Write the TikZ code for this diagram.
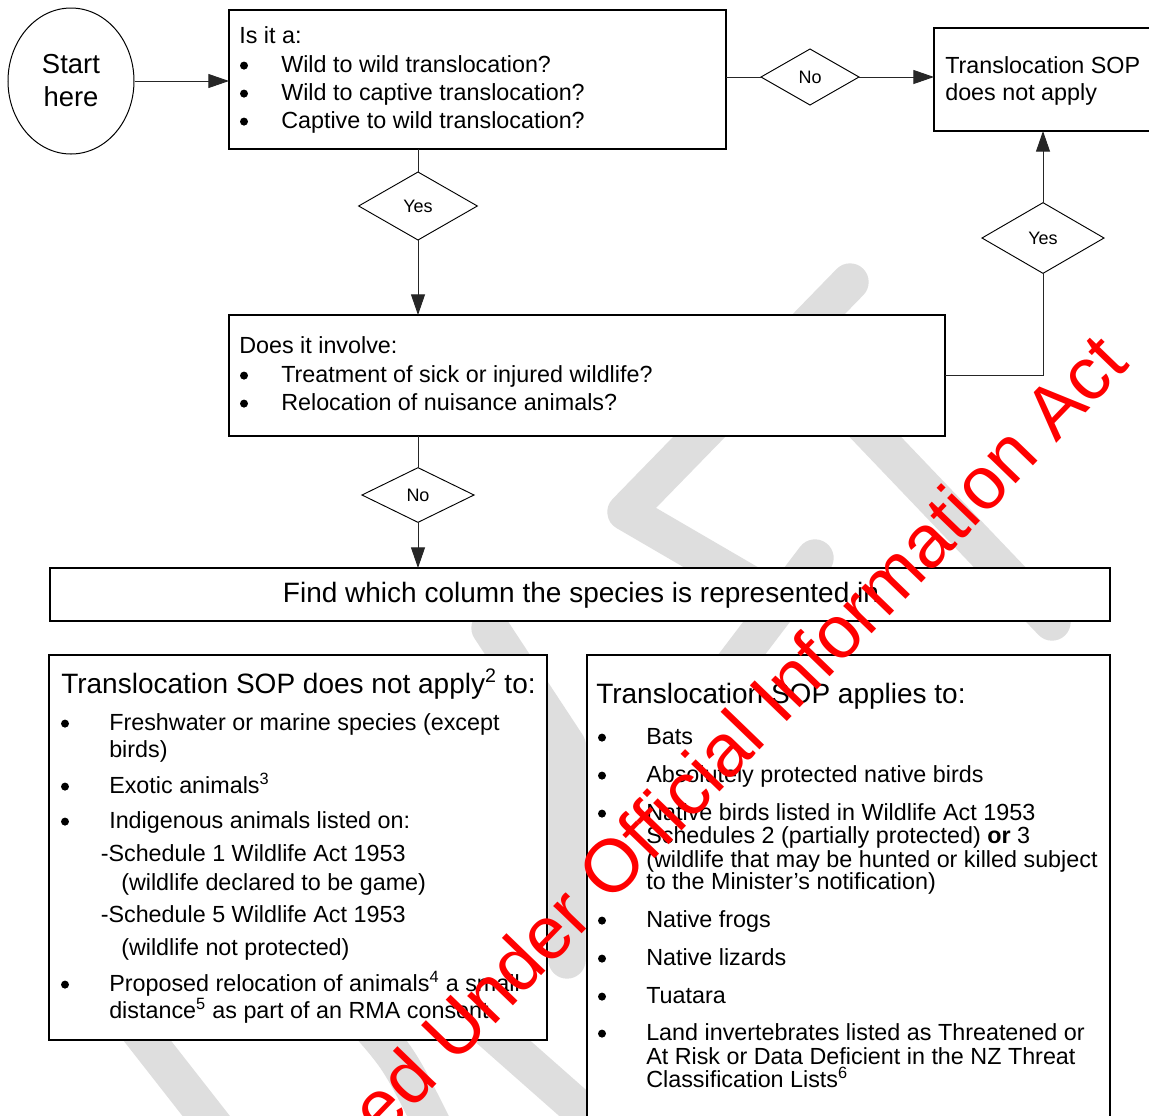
\documentclass[tikz,border=0pt]{standalone}
\usepackage{fontspec}
\setmainfont{Liberation Sans}
\usetikzlibrary{shapes.geometric,arrows.meta}

\tikzset{
  frame/.style={draw=black, line width=1pt, fill=white, inner sep=0pt, outer sep=0pt},
  decision/.style={diamond, draw=black, line width=0.7pt, fill=white, inner sep=0pt,
    outer sep=0pt, font=\fontsize{13.5}{16}\selectfont},
  link/.style={draw=black!85, line width=0.75pt},
  flow/.style={link, -{Triangle[length=15.5pt,width=10.5pt]}},
  body/.style={anchor=base west, inner sep=0pt, font=\fontsize{17.5}{21}\selectfont},
  dot/.style={circle, fill=black, inner sep=0pt, minimum size=6pt, yshift=4.8pt},
  heading/.style={anchor=base west, inner sep=0pt, font=\fontsize{21}{25}\selectfont},
  stroke/.style={draw=black!13, line width=28pt, line cap=round, line join=round},
}

\begin{document}
\begin{tikzpicture}[x=0.75pt, y=-0.75pt]
\useasboundingbox (0,0) rectangle (1149,1115);
\clip (0,0) rectangle (1149,1115);
\fill[white] (0,0) rectangle (1149,1115);

% light grey background lettering
\draw[stroke] (850,282) -- (626,512) -- (760,590);
\draw[stroke] (840,400) -- (1052,622);
\draw[stroke] (815,558) -- (730,670);
\draw[stroke] (490,628) -- (567,745) -- (567,960);
\draw[stroke] (135,1025) -- (225,1140);
\draw[stroke] (365,1020) .. controls (400,1060) .. (440,1140);
\draw[stroke] (490,1030) -- (575,1105);

% start
\node[ellipse, draw=black, line width=0.75pt, fill=white, inner sep=0pt,
      minimum width=94.5pt, minimum height=109.5pt] (start) at (71,81) {};
\node[anchor=base, inner sep=0pt, font=\fontsize{20.6}{24}\selectfont] (startA) at (71,73) {Start};
\node[anchor=base, inner sep=0pt, font=\fontsize{20.6}{24}\selectfont] (startB) at (71,106) {here};

% boxes
\node[frame, anchor=north west, minimum width=372.75pt, minimum height=104.25pt] (b1) at (229,10) {};
\node[frame, anchor=north west, minimum width=169.5pt, minimum height=77.25pt] (tsop) at (934,28) {};
\node[frame, anchor=north west, minimum width=537pt, minimum height=90.75pt] (b2) at (229,315) {};
\node[frame, anchor=north west, minimum width=795pt, minimum height=39.75pt] (find) at (50,568) {};
\node[frame, anchor=north west, minimum width=373.5pt, minimum height=288.75pt] (left) at (49,655) {};
\node[frame, anchor=north west, minimum width=392.25pt, minimum height=360pt] (right) at (587,655) {};

% decisions
\node[decision, minimum width=89pt, minimum height=51pt] (yes1) at (418,206) {Yes};
\node[decision, minimum width=73.5pt, minimum height=42pt] (no1) at (810,77) {No};
\node[decision, minimum width=91.5pt, minimum height=53pt] (yes2) at (1043,238) {Yes};
\node[decision, minimum width=84pt, minimum height=41pt] (no2) at (418,495) {No};

% connectors
\draw[flow] (start.east) -- (start.east -| b1.west);
\draw[link] (no1.west -| b1.east) -- (no1.west);
\draw[flow] (no1.east) -- (no1.east -| tsop.west);
\draw[link] (yes1.north |- b1.south) -- (yes1.north);
\draw[flow] (yes1.south) -- (yes1.south |- b2.north);
\draw[link] (b2.east) -| (yes2.south);
\draw[flow] (yes2.north) -- (yes2.north |- tsop.south);
\draw[link] (no2.north |- b2.south) -- (no2.north);
\draw[flow] (no2.south) -- (no2.south |- find.north);

% first question
\node[body] (q1) at (239,43) {Is it a:};
\node[dot] (q1d1) at (244,72) {};
\node[dot] (q1d2) at (244,100) {};
\node[dot] (q1d3) at (244,128) {};
\node[body] (q1a) at (281,72) {Wild to wild translocation?};
\node[body] (q1b) at (281,100) {Wild to captive translocation?};
\node[body] (q1c) at (281,128) {Captive to wild translocation?};

% outcome
\node[body] (t1) at (945,73) {Translocation SOP};
\node[body] (t2) at (945,100) {does not apply};

% second question
\node[body] (q2) at (239,353) {Does it involve:};
\node[dot] (q2d1) at (244,382) {};
\node[dot] (q2d2) at (244,410) {};
\node[body] (q2a) at (281,382) {Treatment of sick or injured wildlife?};
\node[body] (q2b) at (281,410) {Relocation of nuisance animals?};

% column prompt
\node[anchor=base, inner sep=0pt, font=\fontsize{21}{25}\selectfont] (findtxt) at (581,602)
  {Find which column the species is represented in};

% left column
\node[heading] (lh) at (61,693) {Translocation SOP does not apply\textsuperscript{2} to:};
\node[dot] (ld1) at (65,730) {};
\node[dot] (ld2) at (65,793) {};
\node[dot] (ld3) at (65,828) {};
\node[dot] (ld4) at (65,991) {};
\node[body] (l1) at (109,730) {Freshwater or marine species (except};
\node[body] (l2) at (109,757) {birds)};
\node[body] (l3) at (109,793) {Exotic animals\textsuperscript{3}};
\node[body] (l4) at (109,828) {Indigenous animals listed on:};
\node[body] (l5) at (100.5,861) {-Schedule 1 Wildlife Act 1953};
\node[body] (l6) at (121,890) {(wildlife declared to be game)};
\node[body] (l7) at (100.5,922) {-Schedule 5 Wildlife Act 1953};
\node[body] (l8) at (121,955) {(wildlife not protected)};
\node[body] (l9) at (109,991) {Proposed relocation of animals\textsuperscript{4} a small};
\node[body] (l10) at (109,1018) {distance\textsuperscript{5} as part of an RMA consent};

% right column
\node[heading] (rh) at (596,703) {Translocation SOP applies to:};
\node[dot] (rd1) at (602,744) {};
\node[dot] (rd2) at (602,782) {};
\node[dot] (rd3) at (602,820) {};
\node[dot] (rd4) at (602,927) {};
\node[dot] (rd5) at (602,965) {};
\node[dot] (rd6) at (602,1003) {};
\node[dot] (rd7) at (602,1040) {};
\node[body] (r1) at (646,744) {Bats};
\node[body] (r2) at (646,782) {Absolutely protected native birds};
\node[body] (r3) at (646,820) {Native birds listed in Wildlife Act 1953};
\node[body] (r4) at (646,843) {Schedules 2 (partially protected) \textbf{or} 3};
\node[body] (r5) at (646,867) {(wildlife that may be hunted or killed subject};
\node[body] (r6) at (646,889) {to the Minister’s notification)};
\node[body] (r7) at (646,927) {Native frogs};
\node[body] (r8) at (646,965) {Native lizards};
\node[body] (r9) at (646,1003) {Tuatara};
\node[body] (r10) at (646,1040) {Land invertebrates listed as Threatened or};
\node[body] (r11) at (646,1064) {At Risk or Data Deficient in the NZ Threat};
\node[body] (r12) at (646,1087) {Classification Lists\textsuperscript{6}};

% release stamp
\node[rotate=46, text=red, inner sep=0pt, font=\fontsize{56}{56}\selectfont] (stamp) at (657,818)
  {Released Under Official Information Act};
\end{tikzpicture}
\end{document}
